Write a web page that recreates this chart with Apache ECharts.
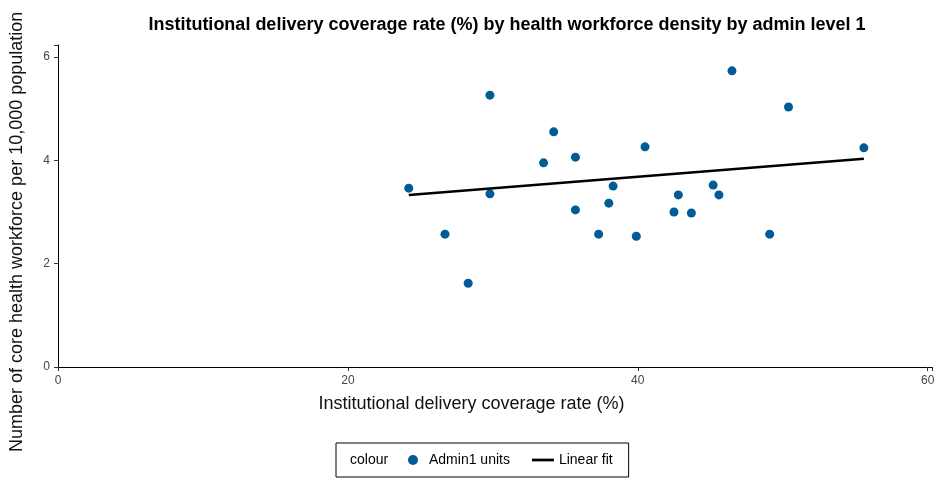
<!DOCTYPE html>
<html style="height: 100%">
<head>
    <meta charset="utf-8">
    <title>Institutional delivery coverage</title>
    <script src="https://cdn.jsdelivr.net/npm/echarts@6/dist/echarts.min.js"></script>
</head>
<body style="height: 100%; margin: 0; background: #fff">
    <div id="chart" style="width: 943px; height: 481px;"></div>
    <script type="text/javascript">
    // coverage rate (%), workforce density per 10,000
    var coverage = [24.2, 26.7, 28.3, 29.8, 29.8, 33.5, 34.2, 35.7, 35.7, 38.3, 38.0, 37.3,
                    40.5, 39.9, 42.5, 42.8, 43.7, 45.2, 45.6, 46.5, 49.1, 50.4, 55.6];
    var density = [3.46, 2.57, 1.62, 5.26, 3.35, 3.95, 4.55, 4.06, 3.04, 3.50, 3.17, 2.57,
                   4.26, 2.53, 3.00, 3.33, 2.98, 3.52, 3.33, 5.73, 2.57, 5.03, 4.24];
    var fitX = [24.2, 55.6];
    var fitY = [3.33, 4.03];

    var points = coverage.map(function (c, i) { return [c, density[i]]; });
    var fit = fitX.map(function (x, i) { return [x, fitY[i]]; });

    var font = 'Liberation Sans';
    var myChart = echarts.init(document.getElementById('chart'));
    myChart.setOption({
        backgroundColor: '#fff',
        animation: false,
        textStyle: { fontFamily: font },
        title: {
            text: 'Institutional delivery coverage rate (%) by health workforce density by admin level 1',
            left: 502, top: 11, textAlign: 'center',
            textStyle: { fontSize: 18, fontWeight: 'bold', color: '#000', fontFamily: font }
        },
        grid: { left: 58, right: 11, top: 45, bottom: 114, containLabel: false, outerBoundsMode: 'none' },
        xAxis: {
            type: 'value', min: 0, max: 60.3, interval: 20,
            axisLine: { lineStyle: { color: '#000' } },
            axisTick: { show: true, length: 4, lineStyle: { color: '#333' } },
            axisLabel: { color: '#444', fontSize: 12,
                formatter: function (v) { return v % 20 === 0 ? v : ''; } },
            splitLine: { show: false }
        },
        yAxis: {
            type: 'value', min: 0, max: 6.23, interval: 2,
            axisLine: { show: true, lineStyle: { color: '#000' } },
            axisTick: { show: true, length: 4, lineStyle: { color: '#333' } },
            axisLabel: { color: '#444', fontSize: 12,
                formatter: function (v) { return v % 2 === 0 ? v : ''; } },
            splitLine: { show: false }
        },
        legend: {
            bottom: 4, left: 336,
            borderColor: '#000', borderWidth: 1, padding: [10, 16, 10, 72],
            itemGap: 22, itemWidth: 22, itemHeight: 10,
            textStyle: { fontSize: 14, color: '#000' },
            data: [
                { name: 'Admin1 units', icon: 'circle' },
                { name: 'Linear fit', icon: 'path://M0,4 L20,4 L20,6.5 L0,6.5 Z' }
            ]
        },
        graphic: [
            { type: 'text', left: 350, bottom: 14,
              style: { text: 'colour', fontSize: 14, fill: '#000', fontFamily: font } },
            { type: 'text', left: 'center', top: 395,
              style: { text: 'Institutional delivery coverage rate (%)', fontSize: 18, fill: '#111', fontFamily: font } },
            { type: 'text', x: 8, y: 452, rotation: Math.PI / 2,
              style: { text: 'Number of core health workforce per 10,000 population', fontSize: 18, fill: '#111', fontFamily: font } }
        ],
        series: [
            {
                name: 'Admin1 units', type: 'scatter', data: points,
                symbolSize: 9, itemStyle: { color: '#005b96', opacity: 1 }
            },
            {
                name: 'Linear fit', type: 'line', data: fit,
                symbol: 'none', lineStyle: { color: '#000', width: 2.5 },
                itemStyle: { color: '#000' }
            }
        ]
    });
    </script>
</body>
</html>
